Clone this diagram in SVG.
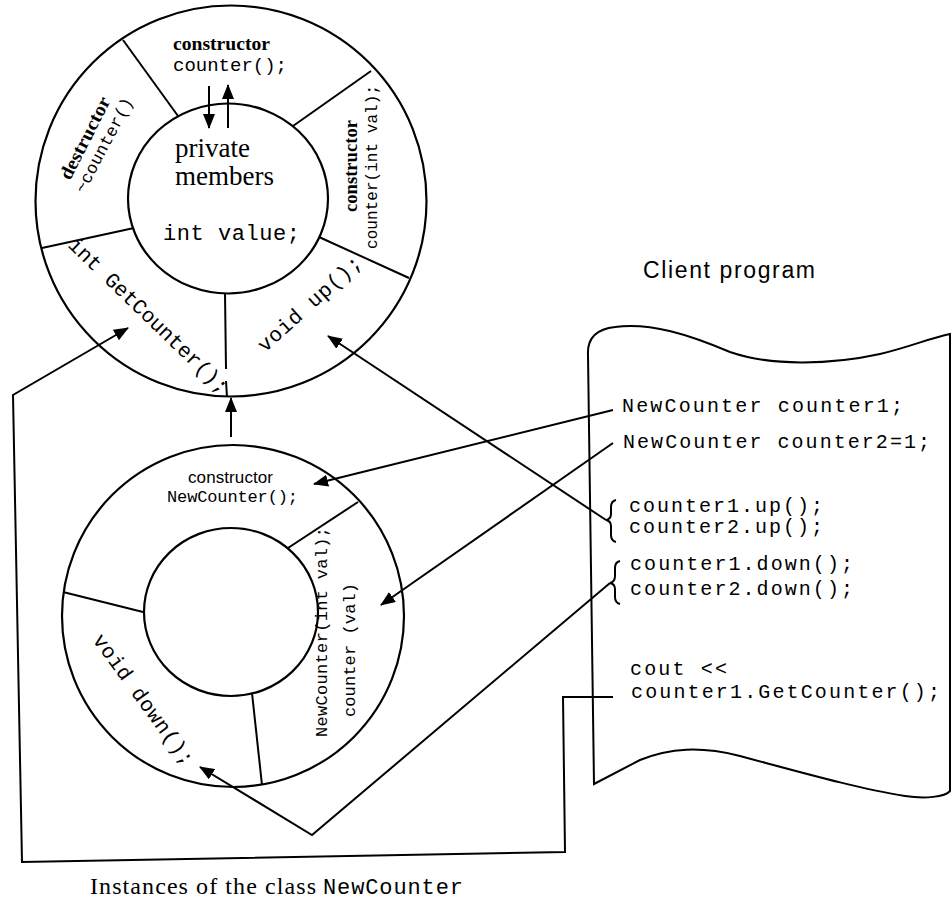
<svg xmlns="http://www.w3.org/2000/svg" width="952" height="901" viewBox="0 0 952 901">
  <style>
    .ln { stroke: #000; stroke-width: 2; fill: none; }
    .shape { stroke: #000; stroke-width: 2.2; fill: #fff; }
    .mono { font-family: "Liberation Mono", "Courier New", monospace; fill: #000; }
    .serif { font-family: "Liberation Serif", "Times New Roman", serif; fill: #000; }
    .sans { font-family: "Liberation Sans", Arial, sans-serif; fill: #000; }
    .b { font-weight: bold; }
    .arr { stroke: #000; stroke-width: 2; fill: none; marker-end: url(#ah); }
  </style>
  <defs>
    <marker id="ah" viewBox="0 0 15 12" refX="14" refY="6" markerWidth="15" markerHeight="12" markerUnits="userSpaceOnUse" orient="auto">
      <path d="M0,0 L15,6 L0,12 Z" fill="#000"/>
    </marker>
  </defs>
  <rect width="952" height="901" fill="#fff"/>

  <!-- Class counter: ring of member functions round the private data -->
  <g id="class-counter">
    <circle class="shape" cx="231" cy="201" r="195.5"/>
    <ellipse class="shape" cx="228" cy="198.5" rx="100" ry="95"/>
    <line class="ln" x1="123" y1="40" x2="178" y2="116"/>
    <line class="ln" x1="371" y1="71" x2="293" y2="126"/>
    <line class="ln" x1="319" y1="237" x2="409" y2="278"/>
    <line class="ln" x1="225" y1="293" x2="226" y2="369"/>
    <line class="ln" x1="226" y1="381" x2="227" y2="397"/>
    <line class="ln" x1="42" y1="248" x2="134" y2="228"/>

    <g id="counter-default-ctor">
      <text class="serif b" x="173" y="50" font-size="19" textLength="97" lengthAdjust="spacingAndGlyphs">constructor</text>
      <text class="mono" x="173" y="71" font-size="19" textLength="114">counter();</text>
    </g>
    <g id="counter-private">
      <text class="serif" x="175" y="157" font-size="27">private</text>
      <text class="serif" x="175" y="185" font-size="27">members</text>
      <text class="mono" x="163" y="240" font-size="22" textLength="137">int value;</text>
    </g>
    <g id="counter-destructor">
      <text class="serif b" transform="translate(70,181) rotate(-63)" font-size="19" textLength="90" lengthAdjust="spacingAndGlyphs">destructor</text>
      <text class="mono" transform="translate(84,194) rotate(-62)" font-size="17" textLength="105">~counter()</text>
    </g>
    <g id="counter-int-ctor">
      <text class="serif b" transform="translate(357,212) rotate(-90)" font-size="19" textLength="92" lengthAdjust="spacingAndGlyphs">constructor</text>
      <text class="mono" transform="translate(377,249) rotate(-90)" font-size="16" textLength="164">counter(int val);</text>
    </g>
    <g id="counter-getcounter">
      <text class="mono" transform="translate(67,246) rotate(44)" font-size="21" textLength="214">int GetCounter();</text>
    </g>
    <g id="counter-up">
      <text class="mono" transform="translate(265,353) rotate(-42)" font-size="21" textLength="132">void up();</text>
    </g>
  </g>

  <!-- Derived class NewCounter -->
  <g id="class-newcounter">
    <circle class="shape" cx="233" cy="616" r="171"/>
    <ellipse class="shape" cx="231" cy="612" rx="87" ry="84"/>
    <line class="ln" x1="288" y1="548" x2="358" y2="502"/>
    <line class="ln" x1="63" y1="592" x2="143" y2="612"/>
    <line class="ln" x1="252" y1="693" x2="262" y2="785"/>

    <g id="newcounter-default-ctor">
      <text class="sans" x="188" y="483" font-size="17" textLength="85">constructor</text>
      <text class="mono" x="167" y="502" font-size="17" textLength="131">NewCounter();</text>
    </g>
    <g id="newcounter-int-ctor">
      <text class="mono" transform="translate(327,737) rotate(-90)" font-size="17" textLength="210">NewCounter(int val);</text>
      <text class="mono" transform="translate(355,717) rotate(-90)" font-size="17" textLength="134">counter (val)</text>
    </g>
    <g id="newcounter-down">
      <text class="mono" transform="translate(92,640) rotate(54)" font-size="21" textLength="157">void down();</text>
    </g>
  </g>

  <!-- Client program sheet -->
  <g id="client-program">
    <text class="sans" x="643" y="278" font-size="23" textLength="172">Client program</text>
    <path class="ln" d="M 588,355 C 587,338 597,329 615,327 C 650,322 690,335 730,352 C 770,366 830,365 880,354 C 910,347 930,338 950,334 L 950,791 C 945,797 925,799 905,796 C 860,789 800,772 740,756 C 700,746 670,748 640,760 L 594,784 Z"/>
    <text class="mono" x="622" y="412" font-size="20" textLength="281">NewCounter counter1;</text>
    <text class="mono" x="623" y="448" font-size="20" textLength="307">NewCounter counter2=1;</text>
    <path class="ln" stroke-width="1.6" d="M 616,500 Q 611,501 611,507 L 611,514 Q 611,519 606,520 Q 611,521 611,526 L 611,535 Q 611,541 616,542"/>
    <text class="mono" x="629" y="512" font-size="20" textLength="194">counter1.up();</text>
    <text class="mono" x="629" y="533" font-size="20" textLength="194">counter2.up();</text>
    <path class="ln" stroke-width="1.6" d="M 620,561 Q 615,562 615,568 L 615,576 Q 615,582 610,583 Q 615,584 615,589 L 615,597 Q 615,603 620,604"/>
    <text class="mono" x="630" y="570" font-size="20" textLength="223">counter1.down();</text>
    <text class="mono" x="630" y="595" font-size="20" textLength="223">counter2.down();</text>
    <text class="mono" x="630" y="675" font-size="20" textLength="97">cout &lt;&lt;</text>
    <text class="mono" x="631" y="698" font-size="20" textLength="309">counter1.GetCounter();</text>
  </g>

  <!-- Calls from the client into the member functions -->
  <g id="connectors">
    <line class="arr" x1="209" y1="86" x2="209" y2="128"/>
    <line class="arr" x1="228" y1="128" x2="228" y2="85"/>
    <line class="arr" x1="231" y1="437" x2="231" y2="398"/>
    <line class="arr" x1="613" y1="410" x2="314" y2="484"/>
    <line class="arr" x1="613" y1="443" x2="381" y2="605"/>
    <line class="arr" x1="606" y1="520" x2="328" y2="336"/>
    <polyline class="arr" points="610,583 312,835 200,767"/>
    <polyline class="arr" points="613,697 563,697 565,852 22,862 13,395 128,328"/>
  </g>

  <text class="serif" x="90" y="894" font-size="24" textLength="226">Instances of the class</text>
  <text class="mono" x="323" y="894" font-size="22" textLength="140">NewCounter</text>
</svg>
